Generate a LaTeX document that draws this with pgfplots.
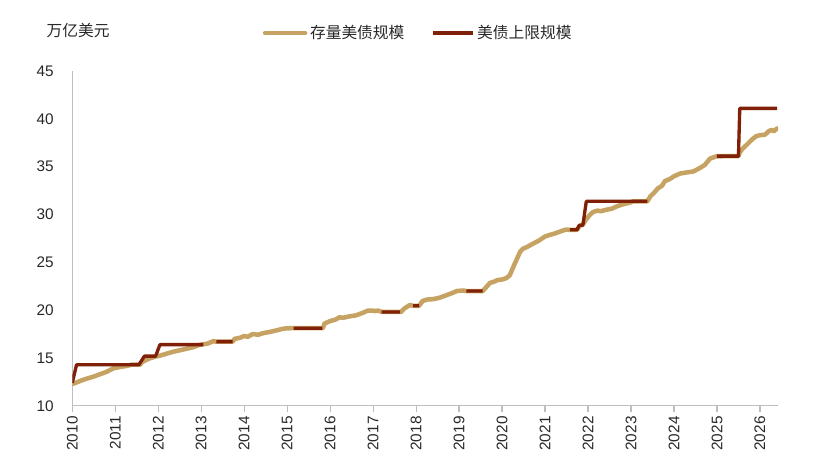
\documentclass[border=0pt]{standalone}
\usepackage{pgfplots}
\pgfplotsset{compat=1.18}
\usepackage{fontspec}
\setmainfont{Liberation Sans}
\newfontfamily\cjk{Noto Sans CJK SC}

\definecolor{debttan}{RGB}{198,163,99}
\definecolor{ceilred}{RGB}{128,32,8}
\definecolor{axgray}{RGB}{190,190,190}
\definecolor{txt}{RGB}{40,40,40}

\begin{document}
\begin{tikzpicture}
  \begin{axis}[
    scale only axis,
    width=529.3pt, height=251pt,
    xmin=2010, xmax=2026.42,
    ymin=10, ymax=45,
    enlargelimits=false,
    clip mode=individual,
    axis x line*=bottom,
    axis y line*=left,
    axis line style={draw=axgray, line width=0.9pt},
    xtick={2010,2011,...,2026},
    ytick={10,15,...,45},
    tick align=outside,
    major tick length=4.5pt,
    xtick style={draw=axgray, line width=0.9pt},
    ytick style={draw=none},
    x tick label style={rotate=90, anchor=east, /pgf/number format/1000 sep={}},
    y tick label style={xshift=-6pt},
    tick label style={font=\fontsize{11.5}{13}\selectfont, text=txt},
    /pgf/number format/assume math mode=true,
    unbounded coords=jump,
    legend style={
      at={(rel axis cs:0.4906,1.1135)}, anchor=center,
      draw=none, fill=none,
      legend columns=2,
      font=\fontsize{11.8}{13}\selectfont\cjk,
      text=txt,
      /tikz/every even column/.append style={column sep=18pt},
    },
    legend image code/.code={\draw[#1] (0pt,0pt) -- (30pt,0pt);},
  ]
    % 存量美债规模 (outstanding debt, trillion USD)
    \addplot[color=debttan, line width=3.4pt, line join=round, line cap=round] table {
      x y
      2010.00 12.27
      2010.08 12.40
      2010.20 12.62
      2010.35 12.85
      2010.50 13.05
      2010.65 13.30
      2010.80 13.55
      2010.95 13.90
      2011.10 14.05
      2011.25 14.15
      2011.38 14.29
      2011.58 14.29
      2011.62 14.55
      2011.70 14.75
      2011.80 14.95
      2011.95 15.15
      2012.05 15.25
      2012.20 15.45
      2012.35 15.65
      2012.50 15.80
      2012.65 15.95
      2012.80 16.10
      2012.95 16.35
      2013.05 16.43
      2013.15 16.50
      2013.28 16.75
      2013.35 16.70
      2013.73 16.70
      2013.78 17.00
      2013.90 17.10
      2014.00 17.30
      2014.08 17.20
      2014.20 17.50
      2014.32 17.42
      2014.45 17.60
      2014.60 17.72
      2014.75 17.88
      2014.90 18.05
      2015.00 18.10
      2015.15 18.11
      2015.83 18.11
      2015.87 18.60
      2016.00 18.85
      2016.12 19.00
      2016.22 19.25
      2016.30 19.20
      2016.45 19.35
      2016.60 19.45
      2016.75 19.70
      2016.88 19.95
      2016.98 19.95
      2017.05 19.90
      2017.12 19.95
      2017.20 19.81
      2017.65 19.81
      2017.72 20.15
      2017.86 20.55
      2017.92 20.45
      2018.07 20.45
      2018.15 20.95
      2018.25 21.10
      2018.40 21.15
      2018.55 21.30
      2018.71 21.57
      2018.85 21.80
      2018.95 22.00
      2019.10 22.05
      2019.17 21.99
      2019.55 21.99
      2019.62 22.35
      2019.72 22.85
      2019.80 22.95
      2019.90 23.15
      2020.00 23.20
      2020.10 23.35
      2020.18 23.65
      2020.25 24.40
      2020.34 25.30
      2020.42 26.10
      2020.48 26.40
      2020.58 26.60
      2020.70 26.90
      2020.85 27.25
      2021.00 27.70
      2021.10 27.85
      2021.25 28.05
      2021.40 28.30
      2021.50 28.43
      2021.55 28.40
      2021.75 28.40
      2021.80 28.80
      2021.88 28.95
      2021.95 29.45
      2022.05 30.00
      2022.12 30.27
      2022.22 30.40
      2022.30 30.35
      2022.43 30.50
      2022.55 30.60
      2022.67 30.85
      2022.80 31.05
      2022.98 31.25
      2023.05 31.38
      2023.38 31.38
      2023.45 31.90
      2023.52 32.20
      2023.63 32.75
      2023.72 33.00
      2023.79 33.50
      2023.90 33.70
      2024.00 34.00
      2024.14 34.28
      2024.30 34.40
      2024.45 34.50
      2024.60 34.85
      2024.72 35.20
      2024.84 35.85
      2024.99 36.09
      2025.50 36.10
      2025.53 36.50
      2025.60 36.90
      2025.68 37.24
      2025.76 37.60
      2025.84 37.94
      2025.92 38.20
      2026.00 38.29
      2026.12 38.35
      2026.20 38.70
      2026.27 38.85
      2026.32 38.70
      2026.40 39.00
    };
    \addlegendentry{存量美债规模}

    % 美债上限规模 (debt ceiling; gaps = suspended)
    \addplot[color=ceilred, line width=2.5pt, line join=round] table {
      x y
      2010.00 12.39
      2010.10 14.29
      2011.55 14.29
      2011.68 15.19
      2011.94 15.19
      2012.04 16.39
      2013.05 16.39
      2013.05 nan
      2013.35 16.70
      2013.73 16.70
      2013.73 nan
      2015.15 18.11
      2015.82 18.11
      2015.82 nan
      2017.20 19.81
      2017.63 19.81
      2017.63 nan
      2017.93 20.46
      2018.07 20.46
      2018.07 nan
      2019.17 21.99
      2019.55 21.99
      2019.55 nan
      2021.58 28.40
      2021.74 28.40
      2021.80 28.88
      2021.88 28.88
      2021.96 31.38
      2023.38 31.38
      2023.38 nan
      2025.00 36.10
      2025.50 36.10
      2025.53 41.10
      2026.40 41.10
    };
    \addlegendentry{美债上限规模}

    \node[anchor=west, text=txt, font=\fontsize{11.8}{13}\selectfont\cjk]
      at (rel axis cs:-0.0429,1.1225) {万亿美元};
  \end{axis}
  \pgfresetboundingbox
  \path[use as bounding box] (-54.2pt,-50.5pt) rectangle (560.8pt,304.3pt);
\end{tikzpicture}
\end{document}
